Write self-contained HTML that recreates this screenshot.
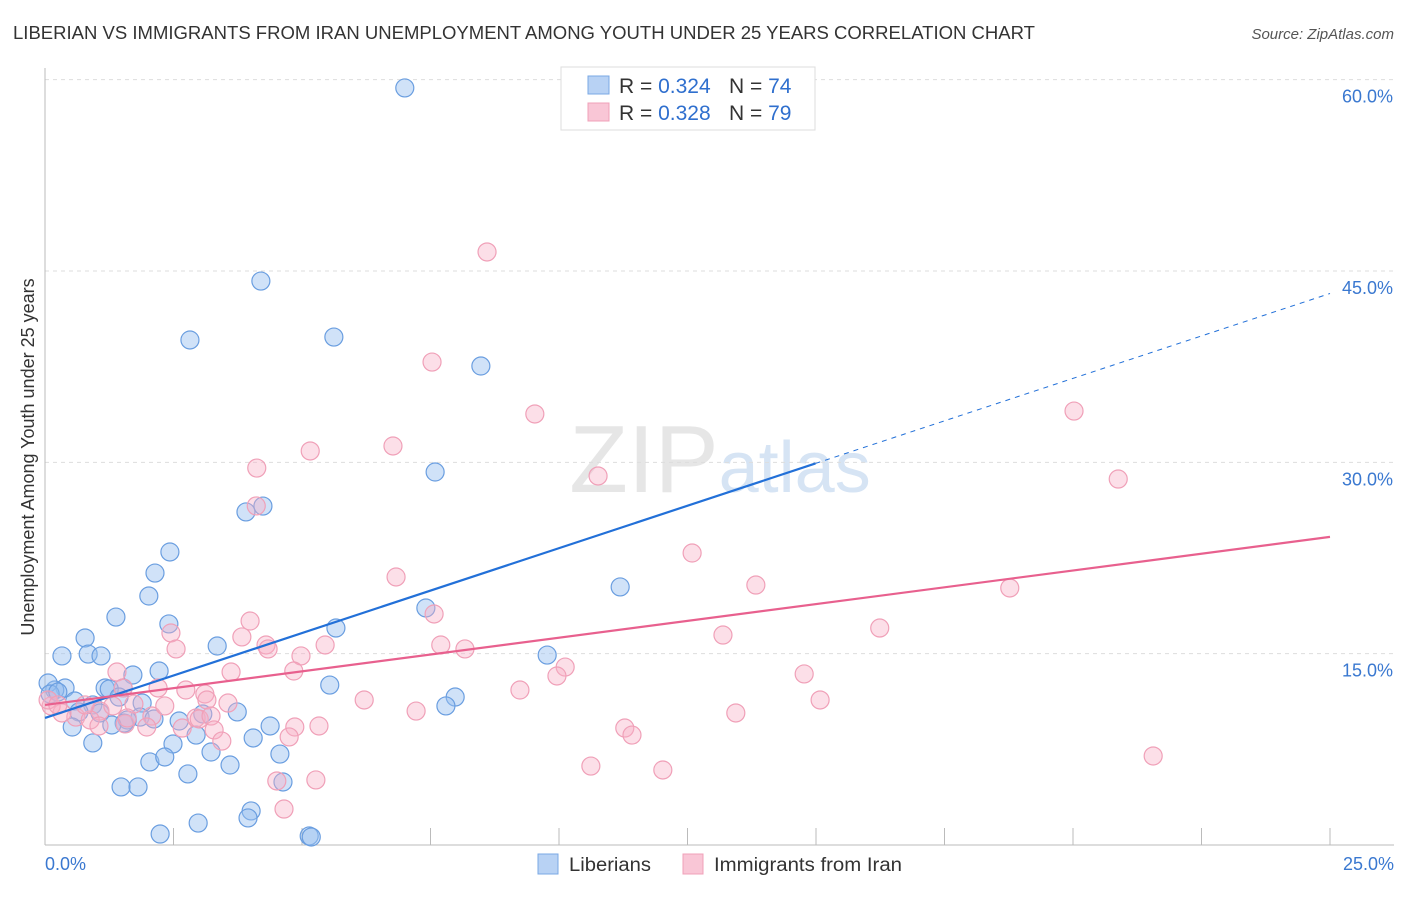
<!DOCTYPE html>
<html><head><meta charset="utf-8"><style>
body{margin:0;background:#fff;font-family:"Liberation Sans",sans-serif;}
svg text{font-family:"Liberation Sans",sans-serif;}
</style></head><body>
<svg id="chart" width="1406" height="892" xmlns="http://www.w3.org/2000/svg">
<text x="13" y="39" font-size="18" fill="#333" textLength="1022" lengthAdjust="spacingAndGlyphs">LIBERIAN VS IMMIGRANTS FROM IRAN UNEMPLOYMENT AMONG YOUTH UNDER 25 YEARS CORRELATION CHART</text>
<text x="1394" y="39" font-size="15" fill="#555" text-anchor="end" font-style="italic">Source: ZipAtlas.com</text>
<text x="720" y="492" font-size="96" fill="#e6e6e6" text-anchor="middle" font-family="Liberation Serif">ZIP<tspan fill="#d6e4f4" font-family="Liberation Sans" font-size="72">atlas</tspan></text>
<g id="grid"></g>
<line x1="45" y1="68" x2="45" y2="845" stroke="#bbb"/>
<line x1="45" y1="845" x2="1394" y2="845" stroke="#bbb"/>
<text transform="translate(34,457) rotate(-90)" font-size="18" fill="#333" text-anchor="middle">Unemployment Among Youth under 25 years</text>
<g id="ticks"></g>
<g id="pts"></g>
<g id="trends"></g>
<g>
<rect x="561" y="67" width="254" height="63" fill="#fff" stroke="#ddd"/>
<rect x="588" y="76" width="21" height="18" fill="#b8d2f4" stroke="#7aa8e4"/>
<rect x="588" y="103" width="21" height="18" fill="#f9c6d6" stroke="#f0a0b8"/>
<text x="619" y="93" font-size="21" fill="#333">R = <tspan fill="#2f6fce">0.324</tspan><tspan x="729">N = </tspan><tspan fill="#2f6fce">74</tspan></text>
<text x="619" y="120" font-size="21" fill="#333">R = <tspan fill="#2f6fce">0.328</tspan><tspan x="729">N = </tspan><tspan fill="#2f6fce">79</tspan></text>
</g>
<g>
<rect x="538" y="854" width="20" height="20" fill="#b8d2f4" stroke="#7aa8e4"/>
<text x="569" y="871" font-size="19" fill="#333" textLength="82" lengthAdjust="spacingAndGlyphs">Liberians</text>
<rect x="683" y="854" width="20" height="20" fill="#f9c6d6" stroke="#f0a0b8"/>
<text x="714" y="871" font-size="19" fill="#333" textLength="188" lengthAdjust="spacingAndGlyphs">Immigrants from Iran</text>
</g>
</svg>
<script>
const yTicks=[15,30,45,60];
const yTickLabels=["15.0%","30.0%","45.0%","60.0%"];
const xTickLabels=["0.0%","25.0%"];
const blueX=[7.00,4.20,2.82,5.62,8.48,7.59,4.24,3.91,2.43,2.14,2.02,1.38,2.41,0.78,5.66,3.35,0.33,0.84,1.09,9.77,11.19,7.41,2.22,1.71,1.17,1.52,1.25,0.39,0.19,0.06,0.10,0.25,0.58,0.93,1.07,0.66,1.44,1.89,1.85,1.60,2.12,1.54,1.30,0.53,0.93,2.61,3.07,3.74,5.54,7.98,7.80,4.38,2.94,2.49,4.05,2.04,2.33,3.23,3.60,4.57,2.78,1.48,1.81,4.01,3.95,2.98,2.24,4.63,5.14,5.18];
const blueY=[59.35,44.21,39.59,39.82,37.55,29.24,26.57,26.11,22.97,21.32,19.52,17.87,17.33,16.23,17.01,15.60,14.82,14.97,14.82,14.89,20.23,18.58,13.64,13.33,12.31,12.31,12.23,12.31,12.15,12.70,11.84,11.99,11.29,10.98,10.35,10.43,11.60,11.13,10.03,9.80,9.88,9.56,9.41,9.25,8.00,9.72,10.27,10.43,12.54,11.60,10.90,9.33,8.62,7.92,8.39,6.51,6.90,7.29,6.27,7.13,5.57,4.55,4.55,2.67,2.12,1.72,0.86,4.94,0.71,0.63];
const pinkX=[8.60,7.53,9.53,6.77,5.16,4.12,10.76,4.11,20.02,20.88,12.59,6.83,13.83,18.77,7.57,3.99,2.45,3.83,4.30,4.34,2.55,4.98,5.45,7.70,8.17,13.19,16.24,10.12,9.96,4.84,3.62,1.40,14.77,2.20,2.74,1.52,3.11,3.15,3.56,6.21,9.24,15.08,7.22,13.44,2.08,2.33,2.94,3.00,3.23,1.73,1.07,0.60,0.33,0.12,0.06,0.88,1.05,1.56,1.98,2.67,4.86,5.33,3.29,3.44,4.75,11.28,11.42,10.62,12.02,4.51,5.27,4.65,21.56,1.60,0.25,0.78,1.32];
const pinkY=[46.49,37.86,33.79,31.28,30.89,29.55,28.93,26.58,34.02,28.69,22.89,21.01,20.38,20.15,18.11,17.56,16.62,16.31,15.68,15.37,15.37,14.82,15.68,15.68,15.37,16.46,17.01,13.95,13.25,13.64,13.56,13.56,13.41,12.31,12.15,12.31,11.84,11.37,11.13,11.37,12.15,11.37,10.50,10.35,10.11,10.90,9.96,9.88,10.11,11.05,10.50,10.03,10.35,10.90,11.37,9.80,9.33,9.49,9.25,9.17,9.25,9.33,9.02,8.15,8.47,9.17,8.62,6.19,5.88,5.02,5.10,2.82,6.98,9.96,10.98,10.98,10.90];
const blueTrend=[9.96,1.331];
const pinkTrend=[10.98,0.527];
const NS="http://www.w3.org/2000/svg";
const sx=v=>45+v*51.4;
const sy=v=>845-v*12.756;
function mk(tag,attrs,parent){const e=document.createElementNS(NS,tag);for(const k in attrs)e.setAttribute(k,attrs[k]);parent.appendChild(e);return e;}
const grid=document.getElementById('grid'),ticks=document.getElementById('ticks');
yTicks.forEach((t,i)=>{
 const g=mk('line',{x1:45,x2:1394,y1:sy(t),y2:sy(t),stroke:'#ddd','stroke-dasharray':'4,4'},grid);
 
 
 const l=mk('text',{x:1393,y:sy(t)+23,'font-size':18,fill:'#3a78d0','text-anchor':'end'},ticks);
 l.textContent=yTickLabels[i];
 
 
});
for(let i=1;i<=10;i++){
 const t=mk('line',{x1:sx(i*2.5),x2:sx(i*2.5),y1:828,y2:845,stroke:'#bbb'},ticks);
 
 
}
[[0,'start',45],[25,'end',1394]].forEach((d,i)=>{
 const l=mk('text',{x:d[2],y:870,'font-size':18,fill:'#3a78d0','text-anchor':d[1]},ticks);
 l.textContent=xTickLabels[i];
 
 
});
const pts=document.getElementById('pts');
blueX.forEach((x,i)=>{
 const c=mk('circle',{cx:sx(x),cy:sy(blueY[i]),r:9,fill:'rgba(150,190,240,0.45)',stroke:'#6a9ee0','stroke-width':1.2},pts);
 
 
});
pinkX.forEach((x,i)=>{
 const c=mk('circle',{cx:sx(x),cy:sy(pinkY[i]),r:9,fill:'rgba(248,175,198,0.4)',stroke:'#f0a0b8','stroke-width':1.2},pts);
 
 
});
const tr=document.getElementById('trends');
const bmax=Math.max(...blueX)+3.8;
let l1=mk('line',{x1:sx(0),y1:sy(blueTrend[0]),x2:sx(bmax),y2:sy(blueTrend[0]+blueTrend[1]*bmax),stroke:'#2270d8','stroke-width':2.2},tr);


let l2=mk('line',{x1:sx(bmax),y1:sy(blueTrend[0]+blueTrend[1]*bmax),x2:sx(25),y2:sy(blueTrend[0]+blueTrend[1]*25),stroke:'#2270d8','stroke-width':1,'stroke-dasharray':'5,5'},tr);


let l3=mk('line',{x1:sx(0),y1:sy(pinkTrend[0]),x2:sx(25),y2:sy(pinkTrend[0]+pinkTrend[1]*25),stroke:'#e8608e','stroke-width':2.2},tr);


</script>
</body></html>
